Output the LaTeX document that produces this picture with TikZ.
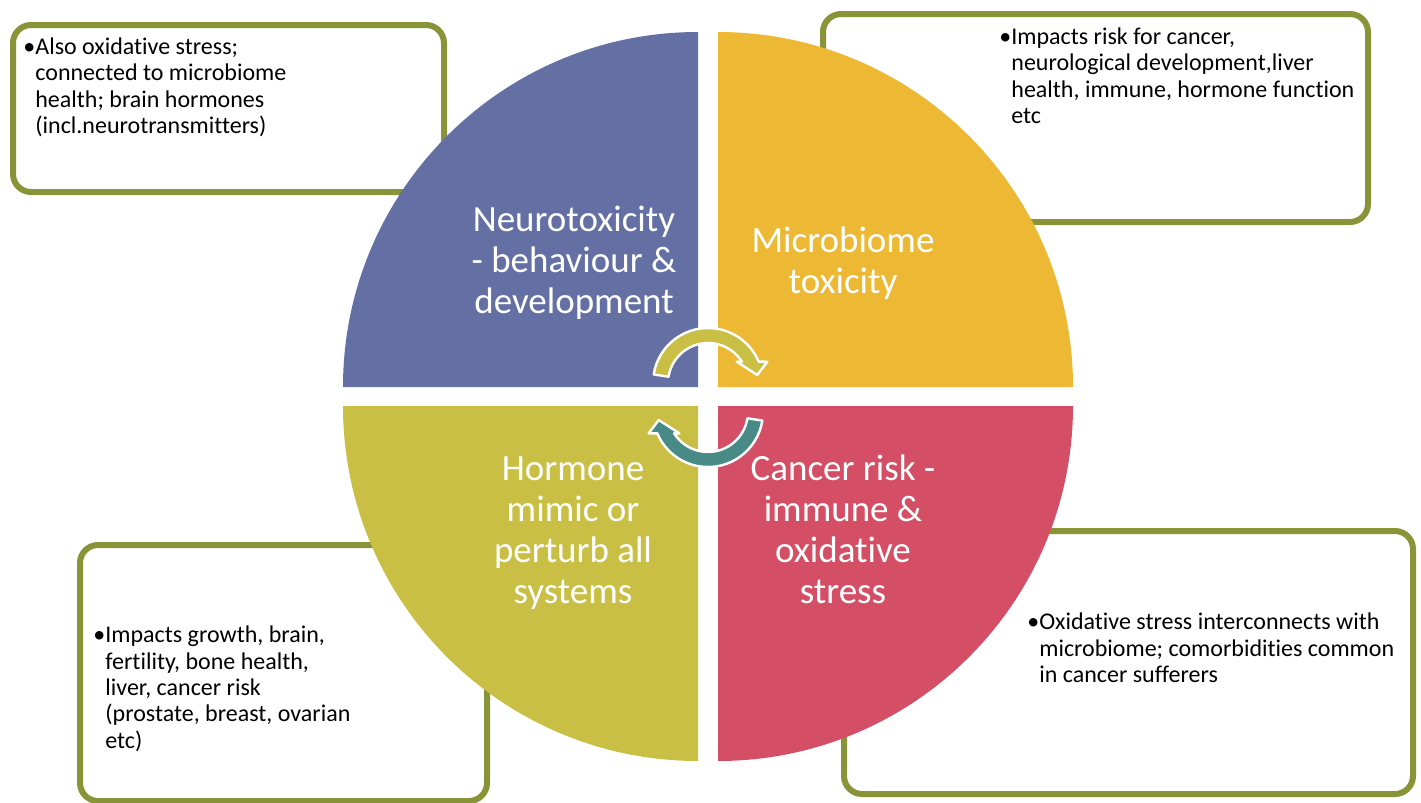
\documentclass[tikz,border=0pt]{standalone}
\usepackage{fontspec}
\setmainfont[RawFeature={-liga;-clig;-calt;-dlig}]{Carlito}
\definecolor{qblue}{RGB}{100,112,163}
\definecolor{qyellow}{RGB}{237,185,52}
\definecolor{qolive}{RGB}{201,191,68}
\definecolor{qred}{RGB}{212,79,101}
\definecolor{frameolive}{RGB}{137,148,56}
\definecolor{arrowteal}{RGB}{72,138,134}
\newcommand\notebullet{\llap{\makebox[6pt][l]{•}}}
\tikzset{
  note/.style={draw=frameolive, line width=3pt, rounded corners=9pt, fill=white},
  % texts are placed by the baseline of their last line
  notetext/.style={anchor=base west, align=left, inner sep=0pt,
    font=\fontsize{12}{13.15}\selectfont},
  quadtext/.style={anchor=base, align=center, inner sep=0pt, text=white,
    font=\fontsize{18.5}{20.5}\selectfont},
  cyclearrow/.style={draw=white, line width=1.2pt, line join=round},
}
% one half-turn arrow, drawn around its own centre in y-up coordinates
\newcommand\halfturn{(171:55) arc[start angle=171,end angle=22.8,radius=55]
  -- (59.3,21.3) -- (49.3,8) -- (28.7,21.3) -- (33.9,21.3)
  arc[start angle=32.2,end angle=171,radius=40] -- cycle}
\begin{document}
\begin{tikzpicture}[x=0.5pt,y=-0.5pt]
\useasboundingbox (0,0) rectangle (1421,803);

% note boxes behind the pie
\draw[note] (13,25) rectangle (444,192);
\draw[note] (823,14) rectangle (1368,222);
\draw[note] (80,545) rectangle (487,801);
\draw[note] (844,531) rectangle (1413,794);

\node[notetext] (n1) at (35,133.5) {\notebullet Also oxidative stress;\\connected to microbiome\\health; brain hormones\\(incl.neurotransmitters)};
\node[notetext] (n2) at (1011,123.5) {\notebullet Impacts risk for cancer,\\neurological development,liver\\health, immune, hormone function\\etc};
\node[notetext] (n3) at (105,748) {\notebullet Impacts growth, brain,\\fertility, bone health,\\liver, cancer risk\\(prostate, breast, ovarian\\etc)};
\node[notetext] (n4) at (1039,682.5) {\notebullet Oxidative stress interconnects with\\microbiome; comorbidities common\\in cancer sufferers};

% the four quarters of the pie
\fill[qblue]   (698,387) -- ++(-355,0) arc[start angle=180,end angle=270,radius=355] -- cycle;
\fill[qyellow] (718,387) -- ++(355,0)  arc[start angle=0,end angle=-90,radius=355] -- cycle;
\fill[qolive]  (698,406) -- ++(-355,0) arc[start angle=180,end angle=90,radius=355] -- cycle;
\fill[qred]    (718,406) -- ++(355,0)  arc[start angle=0,end angle=90,radius=355] -- cycle;

\node[quadtext] (q1) at (574,313) {Neurotoxicity\\- behaviour \&\\development};
\node[quadtext] (q2) at (843,293) {Microbiome\\toxicity};
\node[quadtext] (q3) at (573,603) {Hormone\\mimic or\\perturb all\\systems};
\node[quadtext] (q4) at (843,603) {Cancer risk -\\immune \&\\oxidative\\stress};

% cycle arrows in the centre
\begin{scope}[shift={(708,383)}, yscale=-1]
  \filldraw[cyclearrow, fill=qolive] \halfturn;
\end{scope}
\begin{scope}[shift={(708,412)}, yscale=-1, rotate=180]
  \filldraw[cyclearrow, fill=arrowteal] \halfturn;
\end{scope}
\end{tikzpicture}
\end{document}
